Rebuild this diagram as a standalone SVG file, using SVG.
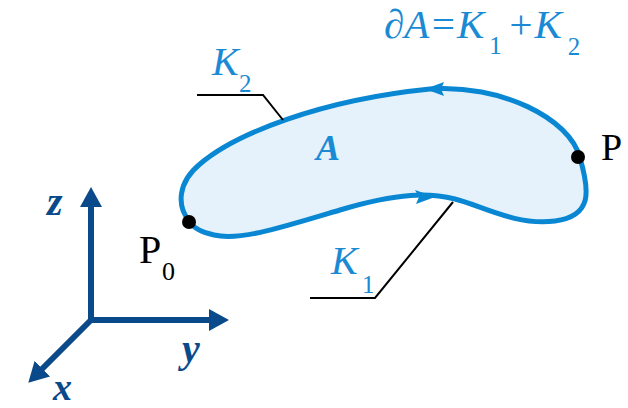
<svg xmlns="http://www.w3.org/2000/svg" width="628" height="408" viewBox="0 0 628 408">
<style>
.blue{fill:#1a8ad4;font-family:"Liberation Serif",serif;font-style:italic}
.blk{fill:#000;font-family:"Liberation Serif",serif}
.ax{fill:#0a4a8a;font-family:"Liberation Serif",serif;font-style:italic;font-weight:bold}
.sub{font-style:normal}
.lead{fill:none;stroke:#000;stroke-width:2}
.axis{stroke:#0a4a8a;stroke-width:6;fill:none}
</style>
<defs>
<marker id="ah" viewBox="0 0 20 22" refX="2" refY="11" markerWidth="20" markerHeight="22" markerUnits="userSpaceOnUse" orient="auto">
<path d="M0,0 L20,11 L0,22 Z" fill="#0a4a8a"/>
</marker>
</defs>
<g id="region">
<path d="M190,222 C176,206 178,182 200,164 C235,134 320,100 430,89 C500,84 570,118 580,158 C590,192 592,216 555,221 C515,226 480,205 455,199 C430,193 400,192 340,210 C280,228 240,241 214,235 C200,232 193,227 190,222 Z" fill="#e5f2fb" stroke="#0a87d2" stroke-width="5"/>
<polygon points="425,89 444,82 441,89 444,96" fill="#0a87d2"/>
<polygon points="435,197 415,190 419,197 416,204" fill="#0a87d2"/>
<text class="blue" x="316" y="160" font-size="36" font-weight="bold">A</text>
</g>
<g id="P0">
<circle cx="189" cy="222" r="7" fill="#000"/>
<text class="blk" x="139" y="263" font-size="40">P</text>
<text class="blk" x="162" y="280" font-size="26">0</text>
</g>
<g id="P">
<circle cx="578" cy="157" r="7" fill="#000"/>
<text class="blk" x="601" y="160" font-size="38">P</text>
</g>
<g id="K1">
<text class="blue" x="331" y="274" font-size="40">K</text>
<text class="blue sub" x="362" y="293" font-size="25">1</text>
</g>
<g id="K2">
<text class="blue" x="212" y="75" font-size="40">K</text>
<text class="blue sub" x="239" y="92" font-size="25">2</text>
</g>
<g id="equation">
<text class="blue" x="384" y="38" font-size="41">∂A=K<tspan class="sub" font-size="25" dx="5" dy="16">1</tspan><tspan dx="5" dy="-16">+K</tspan><tspan class="sub" font-size="25" dx="6" dy="17">2</tspan></text>
</g>
<g id="axes">
<line class="axis" x1="91" y1="322" x2="91" y2="205" marker-end="url(#ah)"/>
<line class="axis" x1="88" y1="320" x2="211" y2="320" marker-end="url(#ah)"/>
<line class="axis" x1="93" y1="318" x2="41" y2="370" marker-end="url(#ah)"/>
<text class="ax" x="47" y="215" font-size="40">z</text>
<text class="ax" x="182" y="362" font-size="40">y</text>
<text class="ax" x="53" y="400" font-size="38">x</text>
</g>
<g id="connectors">
<polyline class="lead" points="197,95 263,95 283,120"/>
<polyline class="lead" points="310,298 375,298 453,202"/>
</g>
</svg>
